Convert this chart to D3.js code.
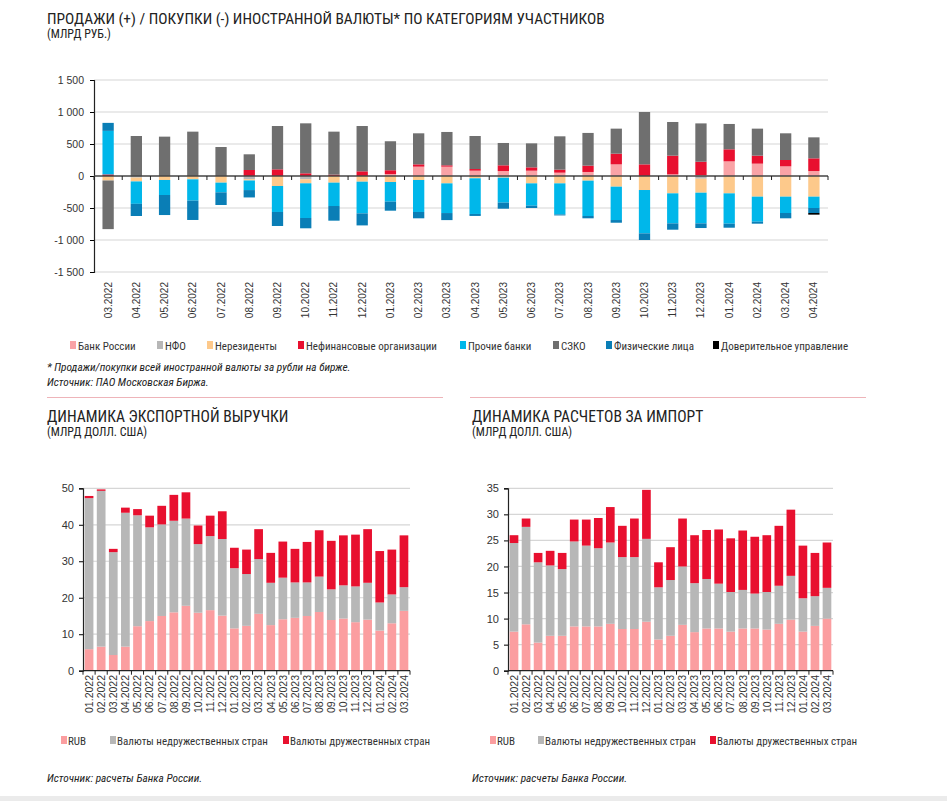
<!DOCTYPE html>
<html>
<head>
<meta charset="utf-8">
<script src="https://cdn.jsdelivr.net/npm/d3@7"></script>
<style>
body { margin: 0; background: #fff; }
text { font-family: "Liberation Sans", Arial, sans-serif; fill: #333; }
.narrow { font-family: "Liberation Sans Narrow", "Roboto Condensed", "Open Sans", sans-serif; }
</style>
</head>
<body>
<div id="chart"></div>
<script>
var w = 947;
var h = 801;

// top chart: sales (+) / purchases (-) by participant category, bn rub
var months1 = ["03.2022", "04.2022", "05.2022", "06.2022", "07.2022", "08.2022", "09.2022", "10.2022",
	"11.2022", "12.2022", "01.2023", "02.2023", "03.2023", "04.2023", "05.2023", "06.2023", "07.2023",
	"08.2023", "09.2023", "10.2023", "11.2023", "12.2023", "01.2024", "02.2024", "03.2024", "04.2024"];
var bankRussia = [0, 0, 0, 0, 0, 0, 0, 0, 0, 0, 30, 146, 146, 83, 78, 83, 52, 63, 182, 0, 26, 15, 229, 193, 151, 78];
var nfo = [0, -25, 0, 0, 0, -50, 0, -52, 0, 0, 0, 0, 0, 0, 0, 0, 0, 0, 0, 0, 0, -42, 0, 0, 0, 0];
var nonResidents = [-70, -60, -62, -52, -104, -20, -156, -62, -104, -89, -94, -62, -115, -36, -26, -115, -115, -73, -167, -219, -271, -219, -271, -323, -323, -323];
var nonFinancial = [25, 0, 0, 0, 0, 94, 104, 42, 21, 73, 60, 36, 21, 26, 89, 52, 47, 99, 167, 182, 292, 208, 188, 125, 99, 198];
var otherBanks = [680, -350, -235, -333, -151, -150, -406, -542, -365, -495, -307, -500, -464, -557, -391, -349, -485, -552, -521, -677, -469, -479, -474, -391, -255, -177];
var szko = [-760, 625, 615, 693, 453, 245, 677, 781, 672, 708, 453, 485, 521, 516, 349, 375, 521, 511, 391, 818, 526, 599, 396, 422, 417, 328];
var individuals = [125, -190, -313, -302, -198, -115, -219, -161, -229, -188, -141, -99, -110, -31, -94, -36, -16, -36, -42, -104, -99, -73, -63, -31, -83, -78];
var trust = [0, 0, 0, 0, 0, 0, 0, 0, 0, 0, 0, 0, 0, 0, 0, 0, 0, 0, 0, 0, 0, 0, 0, 0, 0, -26];
var yTicks1 = [-1500, -1000, -500, 0, 500, 1000, 1500];

var series1 = [
	{name: "Банк России", values: bankRussia, color: "#f9a3a6"},
	{name: "НФО", values: nfo, color: "#b7b7b7"},
	{name: "Нерезиденты", values: nonResidents, color: "#fdc98b"},
	{name: "Нефинансовые организации", values: nonFinancial, color: "#e8102f"},
	{name: "Прочие банки", values: otherBanks, color: "#00b7ea"},
	{name: "СЗКО", values: szko, color: "#6f6f6f"},
	{name: "Физические лица", values: individuals, color: "#0a7eb6"},
	{name: "Доверительное управление", values: trust, color: "#000000"}
];
var legendX1 = [70, 157, 207, 298, 460, 553, 606, 713];

// bottom charts, bn usd
var months2 = ["01.2022", "02.2022", "03.2022", "04.2022", "05.2022", "06.2022", "07.2022", "08.2022", "09.2022",
	"10.2022", "11.2022", "12.2022", "01.2023", "02.2023", "03.2023", "04.2023", "05.2023", "06.2023", "07.2023",
	"08.2023", "09.2023", "10.2023", "11.2023", "12.2023", "01.2024", "02.2024", "03.2024"];
var exportRub = [5.9, 6.6, 4.3, 6.6, 12.2, 13.6, 15.0, 16.0, 17.8, 15.9, 16.6, 15.1, 11.6, 12.3, 15.6, 12.5, 14.1, 14.5, 15.0, 16.1, 13.9, 14.3, 13.3, 14.0, 11.0, 13.0, 16.4];
var exportUnfriendly = [41.4, 42.7, 28.2, 36.7, 30.4, 25.7, 25.1, 25.1, 23.9, 18.8, 20.3, 21.0, 16.5, 14.2, 15.0, 11.6, 11.4, 9.7, 9.2, 9.7, 8.4, 9.1, 9.8, 10.1, 7.7, 7.9, 6.5];
var exportFriendly = [0.6, 0.4, 0.9, 1.4, 1.7, 3.2, 5.1, 7.1, 7.2, 5.1, 5.6, 7.6, 5.6, 6.7, 8.2, 8.2, 9.9, 9.2, 11.1, 12.7, 13.3, 13.7, 14.2, 14.7, 14.1, 12.3, 14.2];
var importRub = [7.5, 8.9, 5.4, 6.7, 6.7, 8.5, 8.5, 8.5, 9.0, 8.0, 8.0, 9.4, 6.0, 6.7, 8.8, 7.4, 8.1, 8.1, 7.5, 8.1, 8.1, 7.9, 9.0, 9.8, 7.5, 8.6, 10.0];
var importUnfriendly = [17.0, 18.7, 15.4, 13.5, 12.8, 16.3, 15.5, 15.0, 15.6, 13.8, 13.8, 15.9, 10.0, 10.7, 11.2, 9.4, 9.5, 8.6, 7.6, 7.4, 6.7, 7.2, 7.3, 8.4, 6.4, 5.7, 5.9];
var importFriendly = [1.5, 1.6, 1.8, 2.8, 3.1, 4.2, 5.0, 5.8, 6.8, 6.0, 7.4, 9.4, 4.8, 6.3, 9.2, 9.2, 9.4, 10.4, 10.3, 11.4, 10.9, 10.9, 11.5, 12.7, 10.1, 8.3, 8.7];
var exportTicks = [0, 10, 20, 30, 40, 50];
var importTicks = [0, 5, 10, 15, 20, 25, 30, 35];
var smallNames = ["RUB", "Валюты недружественных стран", "Валюты дружественных стран"];
var smallColors = ["#fb9ea0", "#b7b7b7", "#e8102f"];

function fmt(v) {
	var s = Math.abs(v) >= 1000 ? d3.format(",")(Math.abs(v)).replace(",", " ") : String(Math.abs(v));
	return (v < 0 ? "-" : "") + s;
}

var svg = d3.select("#chart")
	.append("svg")
	.attr("width", w)
	.attr("height", h);

svg.append("rect").attr("width", w).attr("height", h).attr("fill", "#fff");

//titles and notes
function title(x, y, t, sub, size) {
	svg.append("text").attr("class", "narrow").attr("x", x).attr("y", y)
		.attr("font-size", size + "px").style("fill", "#222").text(t);
	svg.append("text").attr("class", "narrow").attr("x", x).attr("y", y + 14)
		.attr("font-size", "12px").style("fill", "#222").text(sub);
}
title(47, 24, "ПРОДАЖИ (+) / ПОКУПКИ (-) ИНОСТРАННОЙ ВАЛЮТЫ* ПО КАТЕГОРИЯМ УЧАСТНИКОВ", "(МЛРД РУБ.)", 15.4);
title(47, 422, "ДИНАМИКА ЭКСПОРТНОЙ ВЫРУЧКИ", "(МЛРД ДОЛЛ. США)", 15.6);
title(472, 422, "ДИНАМИКА РАСЧЕТОВ ЗА ИМПОРТ", "(МЛРД ДОЛЛ. США)", 15.6);

function note(x, y, t) {
	svg.append("text").attr("class", "narrow").attr("x", x).attr("y", y)
		.attr("font-size", "11.3px").attr("font-style", "italic").style("fill", "#222").text(t);
}
note(47, 371, "* Продажи/покупки всей иностранной валюты за рубли на бирже.");
note(47, 386, "Источник: ПАО Московская Биржа.");
note(47, 782, "Источник: расчеты Банка России.");
note(472, 782, "Источник: расчеты Банка России.");

svg.append("line").attr("x1", 47).attr("x2", 443).attr("y1", 397.5).attr("y2", 397.5)
	.attr("stroke", "#eeb4b9").attr("stroke-width", 1);
svg.append("line").attr("x1", 470).attr("x2", 866).attr("y1", 397.5).attr("y2", 397.5)
	.attr("stroke", "#eeb4b9").attr("stroke-width", 1);
svg.append("rect").attr("x", 0).attr("y", 796).attr("width", w).attr("height", 5).attr("fill", "#ebebeb");

// ---------- top chart ----------
var xScale1 = d3.scaleBand()
	.domain(months1)
	.range([94, 828])
	.paddingInner(0.6)
	.paddingOuter(0.3);

var yScale1 = d3.scaleLinear()
	.domain([-1500, 1500])
	.range([272, 80]);

var rows1 = months1.map(function (m, i) {
	var r = {month: m};
	series1.forEach(function (s) { r[s.name] = s.values[i]; });
	return r;
});

var stack1 = d3.stack()
	.keys(series1.map(function (s) { return s.name; }))
	.offset(d3.stackOffsetDiverging)(rows1);

svg.append("g")
	.selectAll("line")
	.data(yTicks1.filter(function (d) { return d !== 0; }))
	.enter()
	.append("line")
	.attr("x1", 94).attr("x2", 828)
	.attr("y1", function (d) { return yScale1(d); })
	.attr("y2", function (d) { return yScale1(d); })
	.attr("stroke", "#d6d6d6").attr("stroke-width", 1.2);

svg.append("g")
	.selectAll("g")
	.data(stack1)
	.enter()
	.append("g")
	.attr("fill", function (d, i) { return series1[i].color; })
	.selectAll("rect")
	.data(function (d) { return d; })
	.enter()
	.append("rect")
	.attr("x", function (d) { return xScale1(d.data.month); })
	.attr("width", xScale1.bandwidth())
	.attr("y", function (d) { return yScale1(Math.max(d[0], d[1])); })
	.attr("height", function (d) { return Math.abs(yScale1(d[0]) - yScale1(d[1])); });

var yAxis1 = svg.append("g")
	.attr("transform", "translate(94,0)")
	.call(d3.axisLeft(yScale1).tickValues(yTicks1).tickSize(4).tickPadding(6).tickFormat(fmt));
yAxis1.select(".domain").attr("stroke", "#222").attr("stroke-width", 1.2);
yAxis1.selectAll("text").attr("font-size", "10.5px").style("fill", "#333")
	.attr("font-family", "Liberation Sans, Arial, sans-serif");

var step1 = xScale1.step();
var zero1 = yScale1(0);
svg.append("line").attr("x1", 94).attr("x2", 828).attr("y1", zero1).attr("y2", zero1)
	.attr("stroke", "#444").attr("stroke-width", 1.3);
svg.append("g")
	.selectAll("line")
	.data(d3.range(months1.length + 1))
	.enter()
	.append("line")
	.attr("x1", function (i) { return 94 + i * step1; })
	.attr("x2", function (i) { return 94 + i * step1; })
	.attr("y1", zero1).attr("y2", zero1 + 4)
	.attr("stroke", "#222");

svg.append("g")
	.selectAll("text")
	.data(months1)
	.enter()
	.append("text")
	.attr("transform", function (d) {
		return "translate(" + (xScale1(d) + xScale1.bandwidth() / 2 + 3.5) + ",282) rotate(-90)";
	})
	.attr("text-anchor", "end")
	.attr("font-size", "10px")
	.style("fill", "#333")
	.text(function (d) { return d; });

var leg1 = svg.append("g")
	.selectAll("g")
	.data(series1)
	.enter()
	.append("g")
	.attr("transform", function (d, i) { return "translate(" + legendX1[i] + ",341)"; });
leg1.append("rect").attr("width", 6).attr("height", 8).attr("fill", function (d) { return d.color; });
leg1.append("text").attr("class", "narrow").attr("x", 8).attr("y", 8.5)
	.attr("font-size", "11px").style("fill", "#333").text(function (d) { return d.name; });

// ---------- bottom charts ----------
function smallChart(x0, x1, maxY, ticks, rub, unfr, fr, legX) {
	var xScale = d3.scaleBand()
		.domain(months2)
		.range([x0, x1])
		.paddingInner(0.28)
		.paddingOuter(0.14);
	var yScale = d3.scaleLinear()
		.domain([0, maxY])
		.range([670.7, 488.3]);

	svg.append("g")
		.selectAll("line")
		.data(ticks.slice(1))
		.enter()
		.append("line")
		.attr("x1", x0).attr("x2", x1)
		.attr("y1", function (d) { return yScale(d); })
		.attr("y2", function (d) { return yScale(d); })
		.attr("stroke", "#d6d6d6").attr("stroke-width", 1.2);

	var rows = months2.map(function (m, i) {
		var r = {month: m};
		r[smallNames[0]] = rub[i];
		r[smallNames[1]] = unfr[i];
		r[smallNames[2]] = fr[i];
		return r;
	});
	var stacked = d3.stack().keys(smallNames)(rows);

	svg.append("g")
		.selectAll("g")
		.data(stacked)
		.enter()
		.append("g")
		.attr("fill", function (d, i) { return smallColors[i]; })
		.selectAll("rect")
		.data(function (d) { return d; })
		.enter()
		.append("rect")
		.attr("x", function (d) { return xScale(d.data.month); })
		.attr("width", xScale.bandwidth())
		.attr("y", function (d) { return yScale(d[1]); })
		.attr("height", function (d) { return yScale(d[0]) - yScale(d[1]); });

	var yAxis = svg.append("g")
		.attr("transform", "translate(" + x0 + ",0)")
		.call(d3.axisLeft(yScale).tickValues(ticks).tickSize(4).tickPadding(5));
	yAxis.select(".domain").attr("stroke", "#222").attr("stroke-width", 1.2);
	yAxis.selectAll("text").attr("font-size", "11px").style("fill", "#333")
		.attr("font-family", "Liberation Sans, Arial, sans-serif");

	var step = xScale.step();
	var base = yScale(0);
	svg.append("line").attr("x1", x0).attr("x2", x1).attr("y1", base).attr("y2", base)
		.attr("stroke", "#222").attr("stroke-width", 1.2);
	svg.append("g")
		.selectAll("line")
		.data(d3.range(months2.length + 1))
		.enter()
		.append("line")
		.attr("x1", function (i) { return x0 + i * step; })
		.attr("x2", function (i) { return x0 + i * step; })
		.attr("y1", base).attr("y2", base + 4)
		.attr("stroke", "#222");

	svg.append("g")
		.selectAll("text")
		.data(months2)
		.enter()
		.append("text")
		.attr("transform", function (d) {
			return "translate(" + (xScale(d) + xScale.bandwidth() / 2 + 3.8) + ",675) rotate(-90)";
		})
		.attr("text-anchor", "end")
		.attr("font-size", "10.5px")
		.style("fill", "#333")
		.text(function (d) { return d; });

	var leg = svg.append("g")
		.selectAll("g")
		.data(smallNames)
		.enter()
		.append("g")
		.attr("transform", function (d, i) { return "translate(" + legX[i] + ",736)"; });
	leg.append("rect").attr("width", 6).attr("height", 8).attr("fill", function (d, i) { return smallColors[i]; });
	leg.append("text").attr("class", "narrow").attr("x", 7).attr("y", 8.5)
		.attr("font-size", "11px").style("fill", "#333").text(function (d) { return d; });
}

smallChart(83, 410, 50, exportTicks, exportRub, exportUnfriendly, exportFriendly, [61, 110, 283]);
smallChart(508, 833, 35, importTicks, importRub, importUnfriendly, importFriendly, [490, 538, 710]);
</script>
</body>
</html>
